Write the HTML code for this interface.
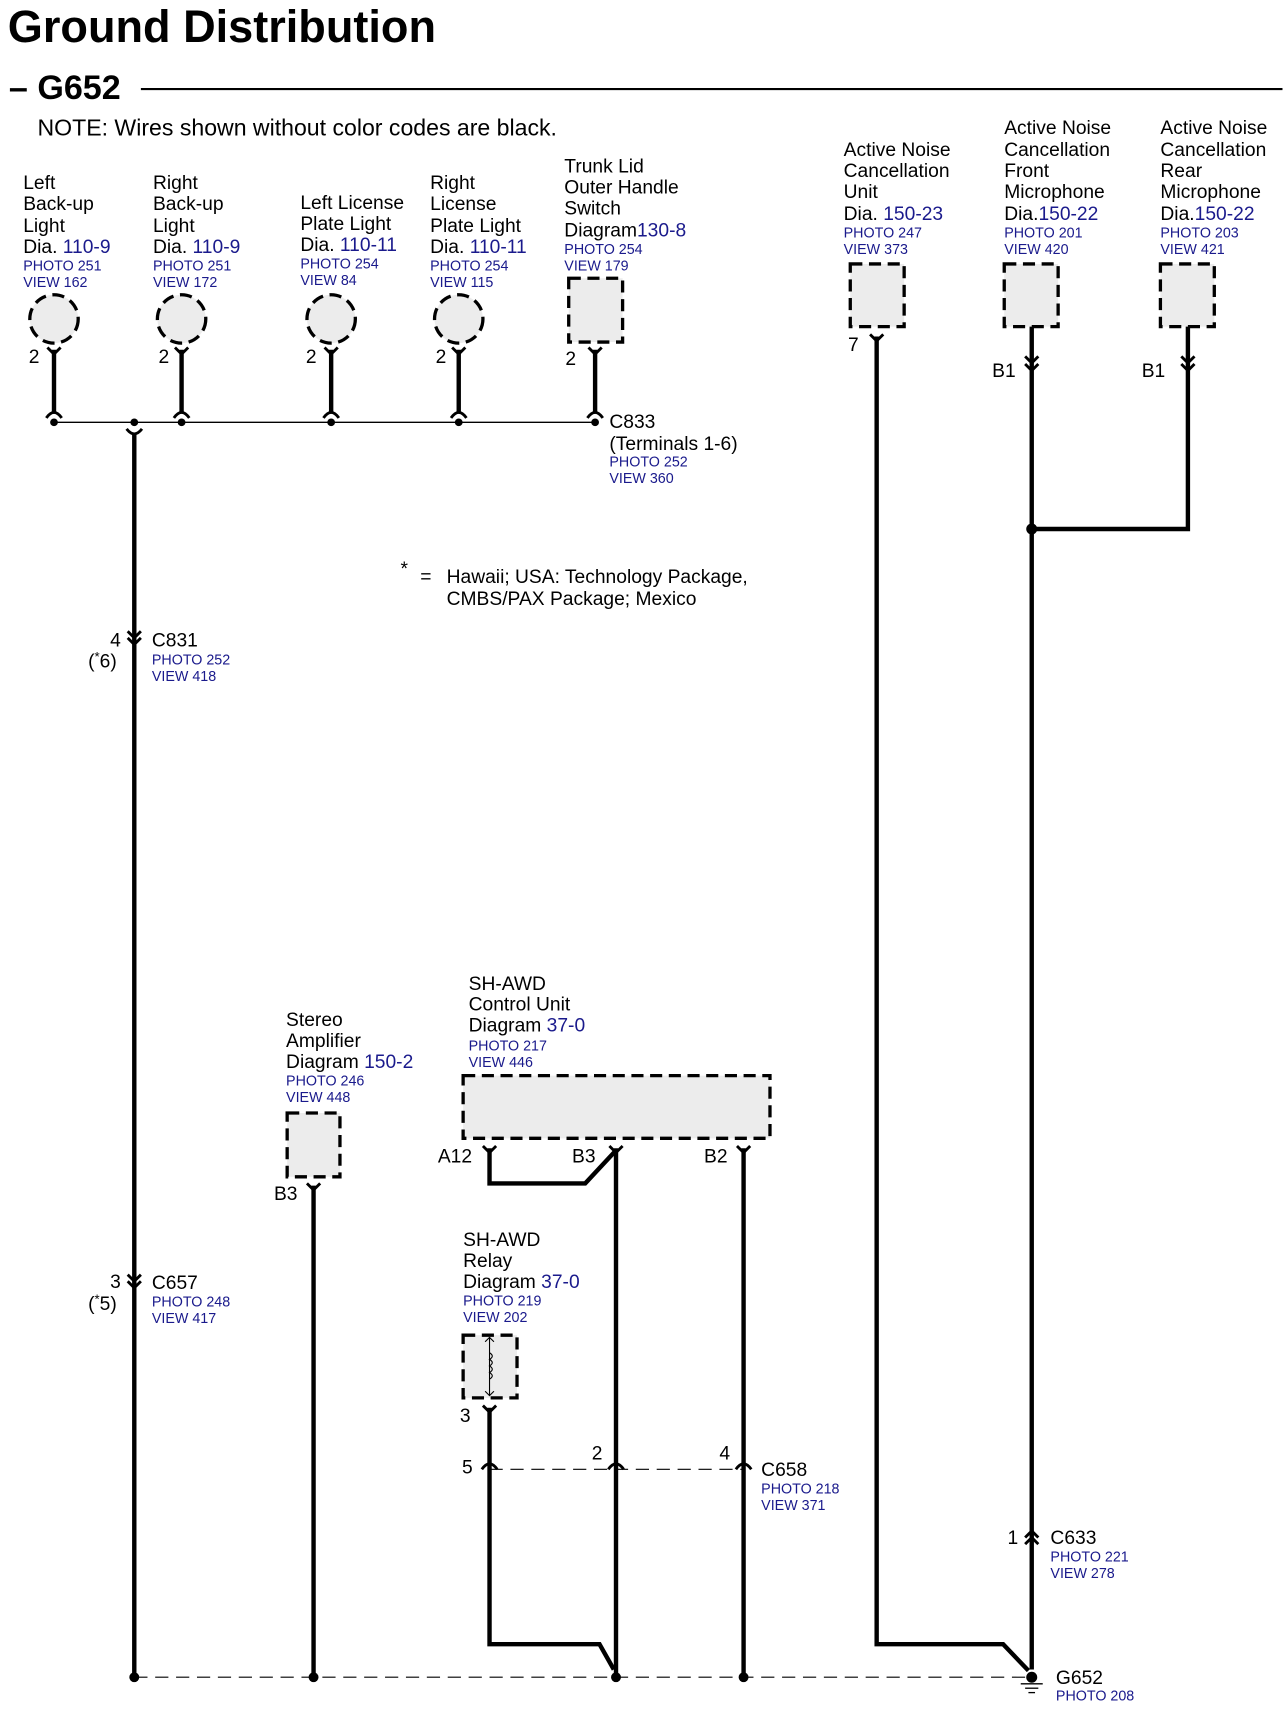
<!DOCTYPE html>
<html><head><meta charset="utf-8"><style>
html,body{margin:0;padding:0;background:#fff}
svg{display:block}
text{font-family:"Liberation Sans",Arial,sans-serif;fill:#000}
.b{fill:#1a1a8c;font-size:13px}
.t{font-size:17.5px}
.n{font-size:17.5px}
.w{stroke:#000;stroke-width:4;fill:none}
.c{stroke:#000;stroke-width:2.6;fill:none}
.box{fill:#ececec;stroke:#000;stroke-width:3;stroke-dasharray:11,6}
</style></head><body>
<svg width="1287" height="1719" viewBox="0 0 1170 1563" xmlns="http://www.w3.org/2000/svg">
<text x="7" y="38" style="font-size:41px;font-weight:bold">Ground Distribution</text>
<text x="8" y="90" style="font-size:31px;font-weight:bold">– G652</text>
<line x1="128" y1="81" x2="1166" y2="81" stroke="#000" stroke-width="2"/>
<text x="34" y="123" style="font-size:21px">NOTE: Wires shown without color codes are black.</text>

<!-- Left back-up -->
<g class="t"><text x="21" y="172">Left</text><text x="21" y="191">Back-up</text><text x="21" y="211">Light</text><text x="21" y="230">Dia.<tspan fill="#1a1a8c"> 110-9</tspan></text></g>
<text class="b" x="21" y="246">PHOTO 251</text><text class="b" x="21" y="261">VIEW 162</text>
<!-- Right back-up -->
<g class="t"><text x="139" y="172">Right</text><text x="139" y="191">Back-up</text><text x="139" y="211">Light</text><text x="139" y="230">Dia.<tspan fill="#1a1a8c"> 110-9</tspan></text></g>
<text class="b" x="139" y="246">PHOTO 251</text><text class="b" x="139" y="261">VIEW 172</text>
<!-- Left license -->
<g class="t"><text x="273" y="190">Left License</text><text x="273" y="209">Plate Light</text><text x="273" y="228">Dia.<tspan fill="#1a1a8c"> 110-11</tspan></text></g>
<text class="b" x="273" y="244">PHOTO 254</text><text class="b" x="273" y="259">VIEW 84</text>
<!-- Right license -->
<g class="t"><text x="391" y="172">Right</text><text x="391" y="191">License</text><text x="391" y="211">Plate Light</text><text x="391" y="230">Dia.<tspan fill="#1a1a8c"> 110-11</tspan></text></g>
<text class="b" x="391" y="246">PHOTO 254</text><text class="b" x="391" y="261">VIEW 115</text>
<!-- Trunk -->
<g class="t"><text x="513" y="157">Trunk Lid</text><text x="513" y="176">Outer Handle</text><text x="513" y="195">Switch</text><text x="513" y="215">Diagram<tspan fill="#1a1a8c">130-8</tspan></text></g>
<text class="b" x="513" y="231">PHOTO 254</text><text class="b" x="513" y="246">VIEW 179</text>

<g class="box"><ellipse cx="49" cy="290" rx="22" ry="22"/><ellipse cx="165" cy="290" rx="22" ry="22"/><ellipse cx="301" cy="290" rx="22" ry="22"/><ellipse cx="417" cy="290" rx="22" ry="22"/><rect x="517" y="253" width="49" height="58"/></g>
<g class="n"><text x="26" y="330">2</text><text x="144" y="330">2</text><text x="278" y="330">2</text><text x="396" y="330">2</text><text x="514" y="332">2</text></g>
<g class="w"><line x1="49" y1="318" x2="49" y2="376"/><line x1="165" y1="318" x2="165" y2="376"/><line x1="301" y1="318" x2="301" y2="376"/><line x1="417" y1="318" x2="417" y2="376"/><line x1="541" y1="318" x2="541" y2="376"/></g>
<g class="c">
<path d="M43 316 L49 322 L55 316"/><path d="M159 316 L165 322 L171 316"/><path d="M295 316 L301 322 L307 316"/><path d="M411 316 L417 322 L423 316"/><path d="M535 316 L541 322 L547 316"/>
<path d="M42 380 Q49 370 56 380"/><path d="M158 380 Q165 370 172 380"/><path d="M294 380 Q301 370 308 380"/><path d="M410 380 Q417 370 424 380"/><path d="M534 380 Q541 370 548 380"/>
<path d="M115 390 Q122 399 129 390"/>
</g>
<line x1="49" y1="384" x2="541" y2="384" stroke="#000" stroke-width="1.3"/>
<g fill="#000"><circle cx="49" cy="384" r="3.5"/><circle cx="122" cy="384" r="3.5"/><circle cx="165" cy="384" r="3.5"/><circle cx="301" cy="384" r="3.5"/><circle cx="417" cy="384" r="3.5"/><circle cx="541" cy="384" r="3.5"/></g>
<text class="t" x="554" y="389">C833</text><text class="t" x="554" y="409">(Terminals 1-6)</text>
<text class="b" x="554" y="424">PHOTO 252</text><text class="b" x="554" y="439">VIEW 360</text>

<!-- left trunk wire -->
<line class="w" x1="122" y1="394" x2="122" y2="1525"/>
<g class="c"><path d="M116 574 L122 580 L128 574"/><path d="M116 580 L122 586 L128 580"/><path d="M116 1159 L122 1165 L128 1159"/><path d="M116 1165 L122 1171 L128 1165"/></g>
<text class="t" x="100" y="588">4</text><text class="t" x="80" y="607">(<tspan dy="-6" font-size="12">*</tspan><tspan dy="6">6)</tspan></text>
<text class="t" x="138" y="588">C831</text><text class="b" x="138" y="604">PHOTO 252</text><text class="b" x="138" y="619">VIEW 418</text>
<text class="t" x="100" y="1171">3</text><text class="t" x="80" y="1191">(<tspan dy="-6" font-size="12">*</tspan><tspan dy="6">5)</tspan></text>
<text class="t" x="138" y="1172">C657</text><text class="b" x="138" y="1188">PHOTO 248</text><text class="b" x="138" y="1203">VIEW 417</text>

<text class="t" x="364" y="523">*</text><text class="t" x="382" y="530">=</text>
<text class="t" x="406" y="530">Hawaii; USA: Technology Package,</text><text class="t" x="406" y="550">CMBS/PAX Package; Mexico</text>

<!-- ANC -->
<g class="t"><text x="767" y="142">Active Noise</text><text x="767" y="161">Cancellation</text><text x="767" y="180">Unit</text><text x="767" y="200">Dia.<tspan fill="#1a1a8c"> 150-23</tspan></text></g>
<text class="b" x="767" y="216">PHOTO 247</text><text class="b" x="767" y="231">VIEW 373</text>
<g class="t"><text x="913" y="122">Active Noise</text><text x="913" y="142">Cancellation</text><text x="913" y="161">Front</text><text x="913" y="180">Microphone</text><text x="913" y="200">Dia.<tspan fill="#1a1a8c">150-22</tspan></text></g>
<text class="b" x="913" y="216">PHOTO 201</text><text class="b" x="913" y="231">VIEW 420</text>
<g class="t"><text x="1055" y="122">Active Noise</text><text x="1055" y="142">Cancellation</text><text x="1055" y="161">Rear</text><text x="1055" y="180">Microphone</text><text x="1055" y="200">Dia.<tspan fill="#1a1a8c">150-22</tspan></text></g>
<text class="b" x="1055" y="216">PHOTO 203</text><text class="b" x="1055" y="231">VIEW 421</text>
<g class="box"><rect x="773" y="240" width="49" height="57"/><rect x="913" y="240" width="49" height="57"/><rect x="1055" y="240" width="49" height="57"/></g>
<text class="t" x="771" y="319">7</text><text class="t" x="902" y="343">B1</text><text class="t" x="1038" y="343">B1</text>
<path class="w" d="M797 306 V1495 H912 L935 1519"/>
<path class="w" d="M938 297 V1518"/>
<path class="w" d="M1080 297 V481 H938"/>
<g class="c"><path d="M791 304 L797 310 L803 304"/><path d="M932 324 L938 330 L944 324"/><path d="M932 331 L938 337 L944 331"/><path d="M1074 324 L1080 330 L1086 324"/><path d="M1074 331 L1080 337 L1086 331"/>
<path d="M932 1398 L938 1392 L944 1398"/><path d="M932 1404 L938 1398 L944 1404"/></g>
<circle cx="938" cy="481" r="5" fill="#000"/>
<text class="t" x="916" y="1404">1</text><text class="t" x="955" y="1404">C633</text><text class="b" x="955" y="1420">PHOTO 221</text><text class="b" x="955" y="1435">VIEW 278</text>

<!-- Stereo amp -->
<g class="t"><text x="260" y="933">Stereo</text><text x="260" y="952">Amplifier</text><text x="260" y="971">Diagram<tspan fill="#1a1a8c"> 150-2</tspan></text></g>
<text class="b" x="260" y="987">PHOTO 246</text><text class="b" x="260" y="1002">VIEW 448</text>
<rect class="box" x="261" y="1012" width="48" height="58"/>
<text class="t" x="249" y="1091">B3</text>
<line class="w" x1="285" y1="1078" x2="285" y2="1525"/>
<path class="c" d="M279 1076 L285 1082 L291 1076"/>

<!-- SH-AWD CU -->
<g class="t"><text x="426" y="900">SH-AWD</text><text x="426" y="919">Control Unit</text><text x="426" y="938">Diagram<tspan fill="#1a1a8c"> 37-0</tspan></text></g>
<text class="b" x="426" y="955">PHOTO 217</text><text class="b" x="426" y="970">VIEW 446</text>
<rect class="box" x="421" y="978" width="279" height="57"/>
<text class="t" x="398" y="1057">A12</text><text class="t" x="520" y="1057">B3</text><text class="t" x="640" y="1057">B2</text>
<path class="w" d="M445 1044 V1076 H532 L560 1046"/>
<line class="w" x1="560" y1="1044" x2="560" y2="1522"/>
<line class="w" x1="676" y1="1044" x2="676" y2="1525"/>
<g class="c"><path d="M439 1042 L445 1048 L451 1042"/><path d="M554 1042 L560 1048 L566 1042"/><path d="M670 1042 L676 1048 L682 1042"/></g>

<!-- Relay -->
<g class="t"><text x="421" y="1133">SH-AWD</text><text x="421" y="1152">Relay</text><text x="421" y="1171">Diagram<tspan fill="#1a1a8c"> 37-0</tspan></text></g>
<text class="b" x="421" y="1187">PHOTO 219</text><text class="b" x="421" y="1202">VIEW 202</text>
<rect class="box" x="421" y="1214" width="49" height="57"/>
<g stroke="#000" stroke-width="1" fill="none"><line x1="445" y1="1216" x2="445" y2="1269"/><path d="M441 1220 L445 1216 L449 1220 M441 1265 L445 1269 L449 1265"/><path d="M445 1230 q5 3 0 6 q5 3 0 6 q5 3 0 6 q5 3 0 6"/></g>
<text class="t" x="418" y="1293">3</text>
<path class="w" d="M445 1280 V1495 H545 L558 1518"/>
<path class="c" d="M439 1278 L445 1284 L451 1278"/>
<line x1="445" y1="1336" x2="676" y2="1336" stroke="#000" stroke-width="1" stroke-dasharray="12,7"/>
<g class="c"><path d="M438 1336 Q445 1326 452 1336"/><path d="M553 1336 Q560 1326 567 1336"/><path d="M669 1336 Q676 1326 683 1336"/></g>
<text class="t" x="420" y="1340">5</text><text class="t" x="538" y="1327">2</text><text class="t" x="654" y="1327">4</text>
<text class="t" x="692" y="1342">C658</text><text class="b" x="692" y="1358">PHOTO 218</text><text class="b" x="692" y="1373">VIEW 371</text>

<!-- bottom ground bus -->
<line x1="122" y1="1525" x2="938" y2="1525" stroke="#000" stroke-width="1" stroke-dasharray="12,7"/>
<g fill="#000"><circle cx="122" cy="1525" r="4.5"/><circle cx="285" cy="1525" r="4.5"/><circle cx="560" cy="1525" r="4.5"/><circle cx="676" cy="1525" r="4.5"/><circle cx="938" cy="1525" r="5"/></g>
<g stroke="#000" stroke-width="1.2"><line x1="928" y1="1531" x2="948" y2="1531"/><line x1="932" y1="1535" x2="944" y2="1535"/><line x1="935" y1="1539" x2="941" y2="1539"/></g>
<text class="t" x="960" y="1531">G652</text><text class="b" x="960" y="1546">PHOTO 208</text>
</svg>
</body></html>
